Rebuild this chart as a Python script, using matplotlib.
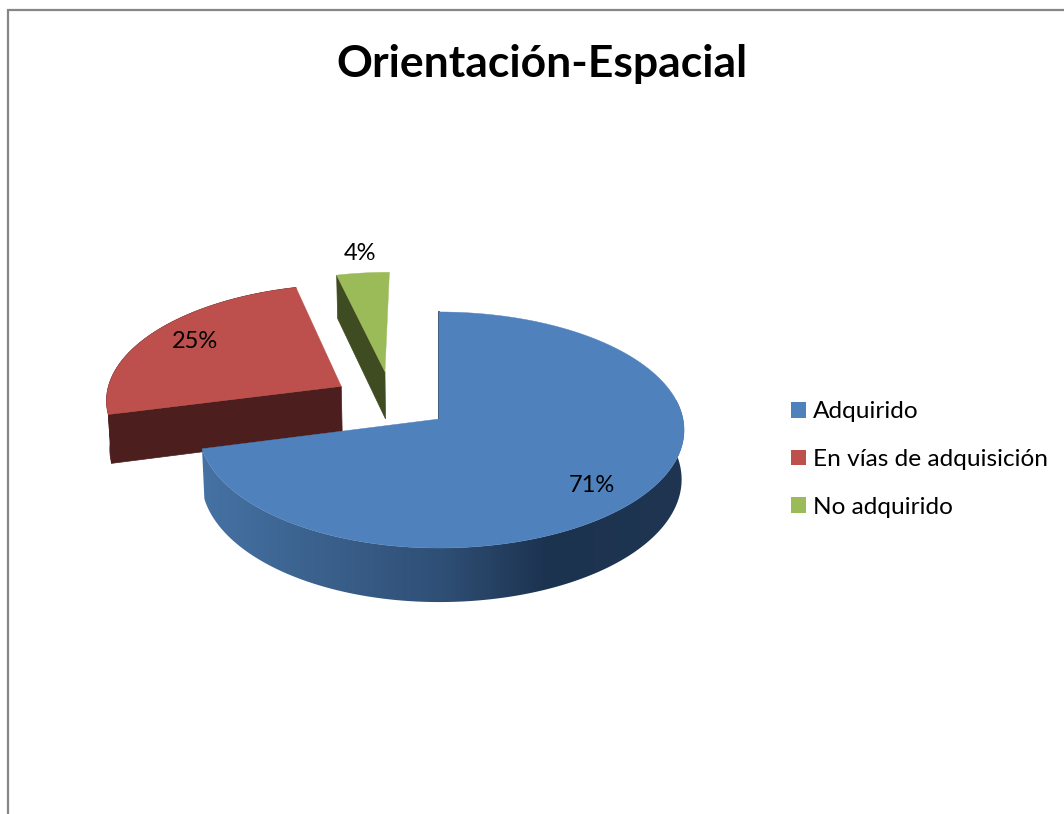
import numpy as np
import matplotlib
matplotlib.use("Agg")
import matplotlib.pyplot as plt
from matplotlib.colors import LinearSegmentedColormap
from matplotlib.patches import Patch, Polygon, Rectangle

plt.rcParams['font.family'] = ['Lato', 'DejaVu Sans']

# datos
categorias = ['Adquirido', 'En vías de adquisición', 'No adquirido']
valores = [71, 25, 4]
titulo = 'Orientación-Espacial'

colores = ['#4F81BD', '#BD4F4C', '#9BBB59']
colores_lado = ['#1C3350', '#4C1F1E', '#3F4B20']
# separacion de cada porcion (en unidades del disco)
separacion = [(0.0, 0.0), (-0.42, 0.287), (-0.235, 0.42)]

# geometria del pastel en pixeles
cx, cy = 439, 419
rx_der, rx_izq = 244, 239
ry = 117
persp = 0.0932
grosor = 49
encoge = 0.99


def arriba(u, v):
    s = 1 / (1 + persp * v)
    return cx + np.where(u > 0, rx_der, rx_izq) * u * s, cy - ry * v * s


def abajo(u, v):
    s = 1 / (1 + persp * v)
    return cx + encoge * np.where(u > 0, rx_der, rx_izq) * u * s, cy - ry * v * s + grosor * s


def arco(t0, t1, du, dv, func):
    t = np.radians(np.linspace(t0, t1, 300))
    return func(np.sin(t) + du, np.cos(t) + dv)


fig = plt.figure(figsize=(10.64, 8.14), dpi=100)
ax = fig.add_axes([0, 0, 1, 1])
ax.axis('off')

# marco del grafico, el borde derecho e inferior quedan fuera
ax.add_patch(Rectangle((8, 9.5), 2000, 2000, fc='white', ec='#868686', lw=1.6))

# angulos de cada porcion, empezando arriba y en sentido horario
fin = np.cumsum(valores) / np.sum(valores) * 360
inicio = np.concatenate([[0], fin[:-1]])

# se dibuja de atras hacia delante
for i in [2, 1, 0]:
    t0, t1 = inicio[i], fin[i]
    du, dv = separacion[i]
    x, y = arco(t0, t1, du, dv, arriba)
    xb, yb = arco(t0, t1, du, dv, abajo)
    px, py = arriba(du, dv)
    qx, qy = abajo(du, dv)

    if i == 0:
        # lado exterior con degradado
        mapa = LinearSegmentedColormap.from_list(
            'lado', [(0, '#4673A5'), (0.5, '#2F4F75'), (0.71, '#1C3350'), (1, '#1F3552')])
        xa, ya = arco(60, t1, du, dv, arriba)
        xc, yc = arco(60, t1, du, dv, abajo)
        lado = Polygon(np.c_[np.r_[xa, xc[::-1]], np.r_[ya, yc[::-1]]], fc='none', ec='none')
        ax.add_patch(lado)
        img = ax.imshow(np.linspace(0, 1, 256)[None, :], cmap=mapa, aspect='auto',
                        extent=(195, 690, 620, 400), zorder=2)
        img.set_clip_path(lado)
        # borde interior muy fino
        ax.plot([x[0], px], [y[0], py], color=colores_lado[0], lw=1.2, zorder=2)
    else:
        if i == 1:
            ax.fill(np.r_[x, xb[::-1]], np.r_[y, yb[::-1]], color=colores_lado[i], lw=0.5)
        # pared del corte que mira al frente
        ax.fill([px, x[0], xb[0], qx], [py, y[0], yb[0], qy], color=colores_lado[i], lw=0.5)

    ax.fill(np.r_[px, x], np.r_[py, y], color=colores[i], lw=0.3, zorder=3)

# etiquetas de porcentaje
pos_etiquetas = [(591.5, 486), (195, 341.5), (360, 254)]
for v, (tx, ty) in zip(valores, pos_etiquetas):
    ax.text(tx, ty, f'{v}%', ha='center', va='center', fontsize=17, color='black', zorder=5)

ax.text(542, 63.5, titulo, ha='center', va='center', fontsize=32, fontweight='bold', zorder=5)

# leyenda
handles = [Patch(facecolor=c, edgecolor='none') for c in colores]
ax.legend(handles, categorias, loc='center left', bbox_to_anchor=(769, 459.5),
          bbox_transform=ax.transData, frameon=False, fontsize=17.6,
          handlelength=0.61, handleheight=0.61, handletextpad=0.29, labelspacing=1.09)

ax.set_xlim(0, 1064)
ax.set_ylim(814, 0)

fig.savefig('out.png', dpi=100)
